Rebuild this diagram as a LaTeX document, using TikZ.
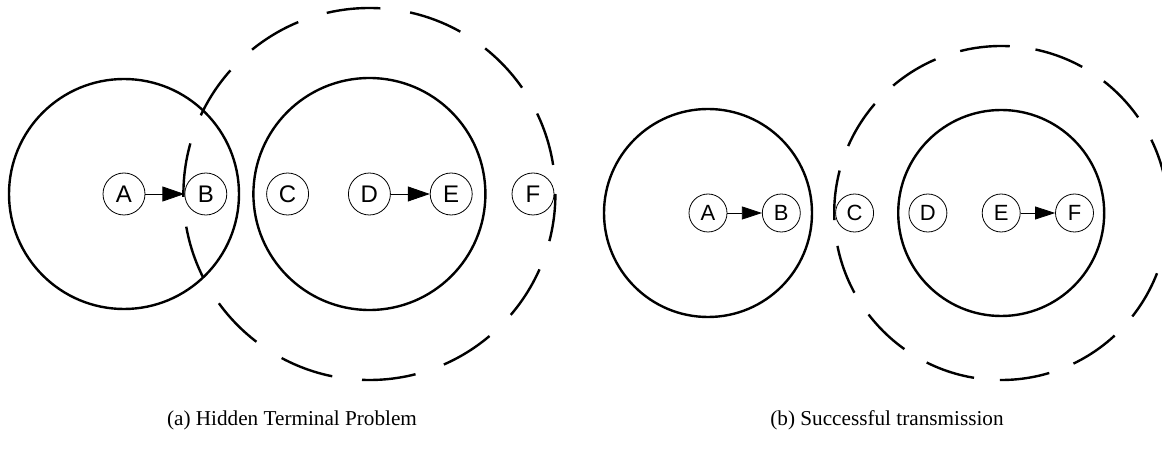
\documentclass[tikz,border=0pt]{standalone}
\usepackage{fontspec}
\setmainfont{Liberation Serif}
\setsansfont{Liberation Sans}
\usetikzlibrary{arrows.meta, positioning}

\begin{document}
\begin{tikzpicture}[x=1pt, y=1pt,
  station/.style={circle, draw, line width=0.4pt, minimum size=21pt, inner sep=0pt, font=\sffamily\fontsize{12}{12}\selectfont},
  smallstation/.style={station, minimum size=19pt, font=\sffamily\fontsize{11}{11}\selectfont},
  txrange/.style={line width=1.2pt},
  csrange/.style={line width=1.2pt, dash pattern=on 27pt off 15pt, dash phase=27.4pt},
  smallcsrange/.style={line width=1.2pt, dash pattern=on 25pt off 13pt, dash phase=25.1pt},
  arrow/.style={-{Triangle[length=11pt, width=7.5pt]}, line width=0.4pt},
  smallarrow/.style={-{Triangle[length=10pt, width=6.5pt]}, line width=0.4pt},
  caption/.style={font=\fontsize{10.6}{13}\selectfont}]
\useasboundingbox (0,0) rectangle (581,225);

% (a) hidden terminal
\node[station] (a1) at (62,128) {A};
\node[station, right=19.5pt of a1] (b1) {B};
\node[station, right=19.5pt of b1] (c1) {C};
\node[station, right=19.5pt of c1] (d1) {D};
\node[station, right=19.5pt of d1] (e1) {E};
\node[station, right=19.5pt of e1] (f1) {F};

\draw[txrange] (a1.center) circle [radius=57.5pt];
\draw[txrange] (d1.center) circle [radius=58pt];
\draw[csrange] (d1.center) circle [radius=93pt];

\draw[arrow] (a1) -- (b1);
\draw[arrow] (d1) -- (e1);

\node[caption] (capa) at (146,15) {(a) Hidden Terminal Problem};

% (b) successful transmission
\node[smallstation] (a2) at (354,118.5) {A};
\node[smallstation, right=17.25pt of a2] (b2) {B};
\node[smallstation, right=17.25pt of b2] (c2) {C};
\node[smallstation, right=17.25pt of c2] (d2) {D};
\node[smallstation, right=17.25pt of d2] (e2) {E};
\node[smallstation, right=17.25pt of e2] (f2) {F};

\draw[txrange] (a2.center) circle [radius=52pt];
\draw[txrange] (e2.center) circle [radius=51.5pt];
\draw[smallcsrange] (e2.center) circle [radius=83.5pt];

\draw[smallarrow] (a2) -- (b2);
\draw[smallarrow] (e2) -- (f2);

\node[caption] (capb) at (443.5,15) {(b) Successful transmission};
\end{tikzpicture}
\end{document}
